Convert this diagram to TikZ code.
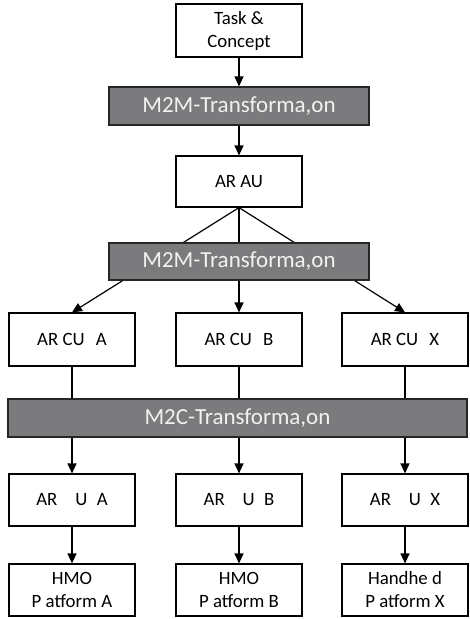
\documentclass[tikz,border=0pt]{standalone}
\usepackage{fontspec}
\setmainfont{Carlito}
\usetikzlibrary{arrows.meta,backgrounds}
\definecolor{barfill}{HTML}{7B7B7D}
\definecolor{bartext}{HTML}{F2F2F2}
\tikzset{
  box/.style={draw=black, line width=1.2pt, fill=white, minimum width=126pt, minimum height=53pt, inner sep=0pt, align=center, font=\fontsize{18.8}{23}\selectfont},
  bar/.style={draw=black!85, line width=1.2pt, fill=barfill, minimum height=38pt, inner sep=0pt, text=bartext, font=\fontsize{23}{26}\selectfont},
  conn/.style={line width=1.2pt, black},
  arr/.style={conn, -{Triangle[length=10pt,width=9pt]}}
}
\begin{document}
\begin{tikzpicture}[x=1pt,y=-1pt]
\useasboundingbox (0,0) rectangle (470,619);
\node[box] (task) at (239,30.5) {Task \&\\Concept};
\node[bar, minimum width=260pt] (m2ma) at (239,106) {M2M-Transforma,on};
\node[box, minimum height=51pt] (au) at (239,181.5) {AR AU};
\node[bar, minimum width=260pt, minimum height=37pt] (m2mb) at (239,261.5) {M2M-Transforma,on};
\node[box] (cua) at (72,339.5) {AR CU\hspace{0.6em}A};
\node[box] (cub) at (239,339.5) {AR CU\hspace{0.6em}B};
\node[box] (cux) at (405,339.5) {AR CU\hspace{0.6em}X};
\node[bar, minimum width=459pt] (m2c) at (237.5,418) {M2C-Transforma,on};
\node[box, minimum height=52pt] (ua) at (72,500) {AR\hspace{0.95em}U\hspace{0.5em}A};
\node[box, minimum height=52pt] (ub) at (239,500) {AR\hspace{0.95em}U\hspace{0.5em}B};
\node[box, minimum height=52pt] (ux) at (405,500) {AR\hspace{0.95em}U\hspace{0.5em}X};
\node[box, minimum height=52pt] (pa) at (72,590) {HMO\\P atform A};
\node[box, minimum height=52pt] (pb) at (239,590) {HMO\\P atform B};
\node[box, minimum height=52pt] (px) at (405,590) {Handhe d\\P atform X};
\begin{scope}[on background layer]
\draw[arr] (task.south) -- (m2ma.north);
\draw[arr] (m2ma.south) -- (au.north);
\draw[arr] (au.south) -- (cua.north);
\draw[arr] (au.south) -- (cub.north);
\draw[arr] (au.south) -- (cux.north);
\draw[arr] (cua.south) -- (ua.north);
\draw[arr] (cub.south) -- (ub.north);
\draw[arr] (cux.south) -- (ux.north);
\draw[arr] (ua.south) -- (pa.north);
\draw[arr] (ub.south) -- (pb.north);
\draw[arr] (ux.south) -- (px.north);
\end{scope}
\end{tikzpicture}
\end{document}
